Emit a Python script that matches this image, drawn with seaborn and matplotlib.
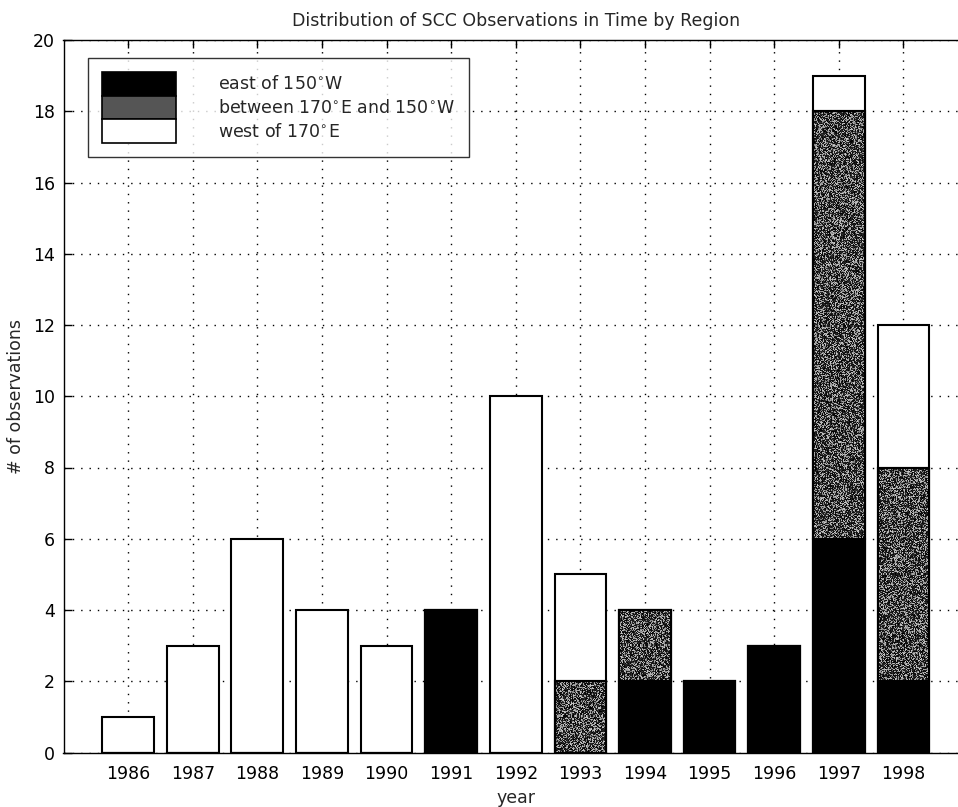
import numpy as np
import pandas as pd
import matplotlib
matplotlib.use("Agg")
import matplotlib.pyplot as plt
from matplotlib.patches import Patch
import seaborn as sns

years = [1986, 1987, 1988, 1989, 1990, 1991, 1992, 1993, 1994, 1995, 1996, 1997, 1998]
east_150w = [0, 0, 0, 0, 0, 4, 0, 0, 2, 2, 3, 6, 2]
between_170e_150w = [0, 0, 0, 0, 0, 0, 0, 2, 2, 0, 0, 12, 6]
west_170e = [1, 3, 6, 4, 3, 0, 10, 3, 0, 0, 0, 1, 4]
region_labels = [r"east of 150$^{\circ}$W",
                 r"between 170$^{\circ}$E and 150$^{\circ}$W",
                 r"west of 170$^{\circ}$E"]
yticks = list(range(0, 21, 2))

df = pd.DataFrame({"year": [str(y) for y in years],
                   "east": east_150w,
                   "between": between_170e_150w,
                   "west": west_170e})
df["east_between"] = df["east"] + df["between"]
df["total"] = df["east_between"] + df["west"]

sns.set_theme(style="white")
plt.rcParams["font.family"] = ["DejaVu Sans"]
plt.rcParams["mathtext.fontset"] = "dejavusans"
FS = 12.5

fig = plt.figure(figsize=(9.58, 8.07), dpi=100)
ax = fig.add_axes([63.5 / 958, 1 - 752.5 / 807, (968 - 63.5) / 958, (752.5 - 40) / 807])

gray = "#555555"
BAR_W = 0.8
common = dict(x="year", width=BAR_W, edgecolor="black", linewidth=1.5,
              saturation=1, ax=ax, zorder=3, errorbar=None)
sns.barplot(data=df, y="total", color="white", **common)
n_before = len(ax.patches)
sns.barplot(data=df, y="east_between", color=gray, **common)
mid_bars = ax.patches[n_before:]
sns.barplot(data=df, y="east", color="black", **common)

# grainy stipple fill over the middle segment of each stack
rng = np.random.default_rng(7)
for p, lo, h in zip(mid_bars, df["east"], df["between"]):
    if h <= 0:
        continue
    x0, w = p.get_x(), p.get_width()
    npx_w = 52
    npx_h = max(int(h * 35.6), 2)
    tex = np.where(rng.random((npx_h, npx_w)) < 0.6,
                   rng.uniform(0.0, 0.2, (npx_h, npx_w)),
                   rng.uniform(0.45, 0.8, (npx_h, npx_w)))
    ax.imshow(tex, cmap="gray", vmin=0, vmax=1, interpolation="nearest",
              extent=(x0, x0 + w, lo, lo + h), aspect="auto", zorder=3.5)
    ax.add_patch(plt.Rectangle((x0, lo), w, h, fill=False, edgecolor="black",
                               linewidth=1.5, zorder=3.6))

ax.set_xlim(-1, 13)
ax.set_ylim(0, 20)
ax.set_yticks(yticks)
ax.set_yticklabels([str(t) for t in yticks])

ax.grid(True, color="black", linestyle=(0, (1, 5)), linewidth=1.0, zorder=0)
ax.set_axisbelow(True)
for s in ax.spines.values():
    s.set_color("black")
    s.set_linewidth(1.0)
ax.spines["right"].set_visible(False)
ax.tick_params(direction="in", length=6, width=1, colors="black",
               top=True, right=False, bottom=True, left=True,
               labelsize=FS)
ax.tick_params(axis="x", pad=9)
ax.tick_params(axis="y", pad=6)

ax.set_title("Distribution of SCC Observations in Time by Region", fontsize=FS, pad=10)
ax.set_xlabel("year", fontsize=FS, labelpad=4)
ax.set_ylabel("# of observations", fontsize=FS, labelpad=6)

handles = [Patch(facecolor="black", edgecolor="black", linewidth=1.2),
           Patch(facecolor=gray, edgecolor="black", linewidth=1.2),
           Patch(facecolor="white", edgecolor="black", linewidth=1.2)]
leg = ax.legend(handles, region_labels, loc="upper left",
                bbox_to_anchor=((88 - 63.5) / 904.5, 1 - 18 / 712.5),
                fontsize=FS, frameon=True, fancybox=False, shadow=False,
                handlelength=4.25, handleheight=1.72, labelspacing=0.0,
                handletextpad=2.45, borderpad=0.8, borderaxespad=0)
leg.get_frame().set_edgecolor("black")
leg.get_frame().set_linewidth(1.0)
leg.get_frame().set_facecolor("white")
leg.set_zorder(5)

fig.savefig("out.png", dpi=100)
